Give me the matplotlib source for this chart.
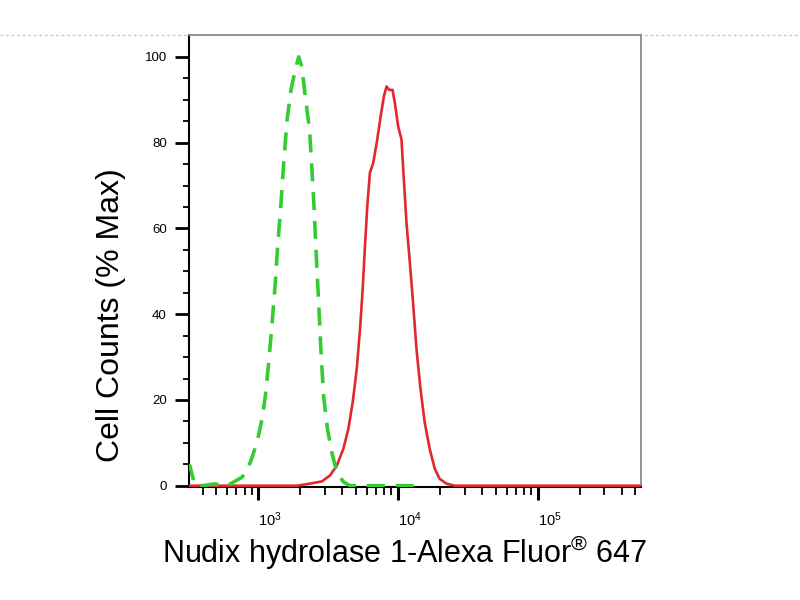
import numpy as np
import matplotlib
matplotlib.use('Agg')
import matplotlib.pyplot as plt
from matplotlib.lines import Line2D
from matplotlib.ticker import FixedLocator, NullFormatter

plt.rcParams['font.family'] = ['Liberation Sans', 'DejaVu Sans']
plt.rcParams['mathtext.default'] = 'regular'

# isotype control (green dashed), fluorescence vs % max
ctrl_x = [320, 324, 352, 400, 483, 600, 769, 881, 984, 1067, 1127, 1191, 1259,
          1327, 1380, 1459, 1524, 1611, 1718, 1845, 1950, 2056, 2173, 2333,
          2427, 2518, 2606, 2704, 2812, 2938, 3133, 3365, 3656, 4074, 4550,
          8000, 15000]
ctrl_y = [4.0, 4.7, 0.2, 0.0, 0.4, 0.0, 2.0, 5.5, 10.2, 15.6, 21.0, 28.8, 38.0,
          47.4, 55.9, 66.0, 75.3, 85.3, 92.3, 97.0, 100.0, 97.7, 90.8, 83.0,
          73.7, 64.4, 53.6, 43.5, 31.9, 21.0, 13.3, 7.8, 3.2, 0.9, 0.0,
          0.0, 0.0]

# Nudix hydrolase 1 stained sample (red solid)
samp_x = [320, 1000, 1897, 2360, 2856, 3273, 3656, 4074, 4426, 4754, 5078,
          5361, 5600, 5818, 6043, 6310, 6668, 7117, 7530, 7943, 8298, 8670,
          9162, 9528, 10050, 10620, 11040, 11530, 12190, 12850, 13590, 14520,
          15560, 16900, 18360, 19910, 22230, 25470, 100000, 550000]
samp_y = [0.0, 0.0, 0.0, 0.5, 1.0, 2.4, 4.7, 8.6, 13.3, 19.5, 27.2,
          36.5, 45.8, 55.9, 65.2, 73.0, 75.3, 80.7, 86.1, 90.8, 93.1, 92.3,
          92.3, 89.2, 83.8, 80.7, 71.4, 61.3, 52.0, 42.7, 31.9, 22.6,
          14.8, 8.6, 4.0, 1.6, 0.5, 0.0, 0.0, 0.0]

major_x = [1e3, 1e4, 1e5]
major_labels = ['$10^{3}$', '$10^{4}$', '$10^{5}$']
minor_x = [m * 10 ** e for e in (2, 3, 4, 5) for m in range(2, 10)]

fig = plt.figure(figsize=(8, 6), dpi=100)
ax = fig.add_axes([189 / 800, 1 - 487 / 600, 452 / 800, 452 / 600])

ax.plot(samp_x, samp_y, color='#e0282e', lw=1.9, zorder=3)
ax.plot(ctrl_x, ctrl_y, color='#33cc33', lw=2.6, ls=(0, (5, 3)), zorder=4)

ax.set_xscale('log')
ax.set_xlim(320, 5.5e5)
ax.set_ylim(-0.3, 105.1)

ax.xaxis.set_major_locator(FixedLocator(major_x))
ax.set_xticklabels(major_labels)
ax.xaxis.set_minor_locator(FixedLocator(minor_x))
ax.xaxis.set_minor_formatter(NullFormatter())
for lab in ax.get_xticklabels():
    lab.set_ha('left')

ax.set_yticks([0, 20, 40, 60, 80, 100])
ax.set_yticks(np.arange(0, 105, 5), minor=True)

ax.tick_params(axis='x', which='major', length=9.5, width=2.2, pad=7,
               labelsize=10.5, direction='out')
ax.tick_params(axis='x', which='minor', length=5.5, width=1.3, direction='out')
ax.tick_params(axis='y', which='major', length=10, width=2.0, pad=6,
               labelsize=9.5, direction='out')
ax.tick_params(axis='y', which='minor', length=4.5, width=1.3, direction='out')

for s in ('left', 'bottom'):
    ax.spines[s].set_color('black')
    ax.spines[s].set_linewidth(1.5)
for s in ('top', 'right'):
    ax.spines[s].set_color('#8c8c8c')
    ax.spines[s].set_linewidth(1.3)

# faint dashed rule across the image at the frame top
fig.add_artist(Line2D([0, 1], [1 - 35 / 600, 1 - 35 / 600],
                      transform=fig.transFigure, color='#c8c8c8', lw=1,
                      ls=(0, (2, 2)), zorder=0))

fig.text(111 / 800, 1 - 315 / 600, 'Cell Counts (% Max)', rotation=90,
         ha='center', va='center', fontsize=23)
fig.text(405 / 800, 1 - 563 / 600, 'Nudix hydrolase 1-Alexa Fluor$^{®}$ 647',
         ha='center', va='baseline', fontsize=22)

fig.savefig('out.png', dpi=100)
